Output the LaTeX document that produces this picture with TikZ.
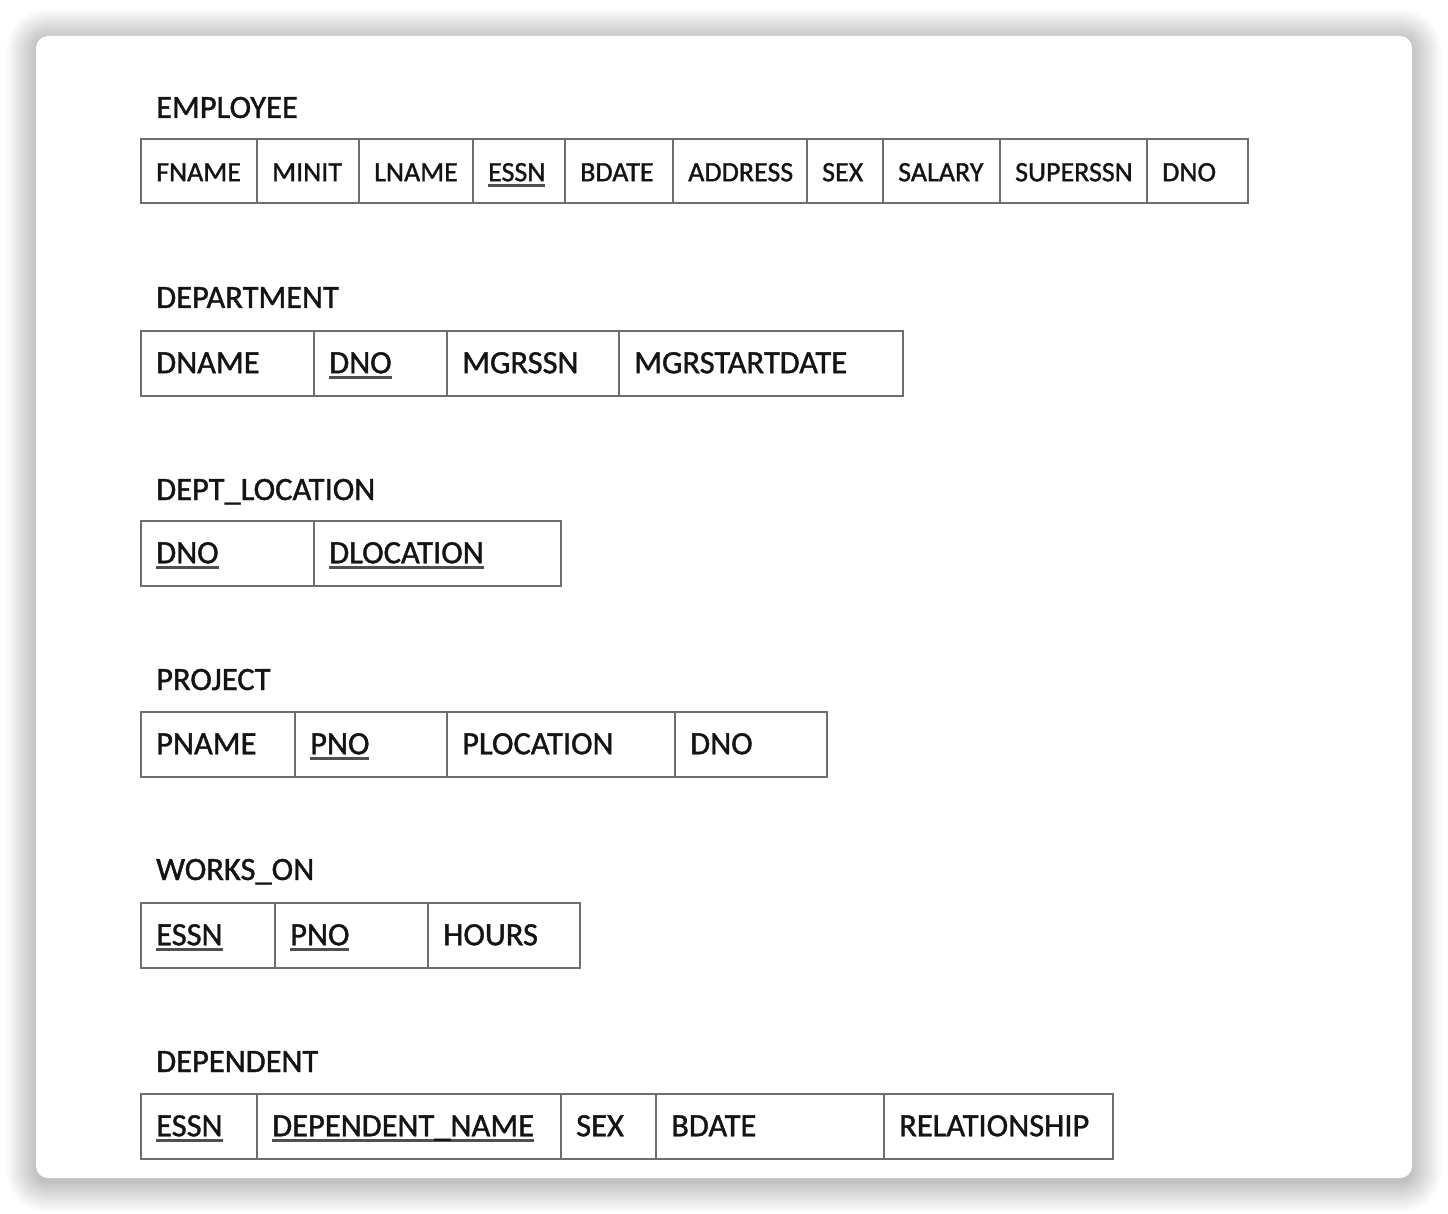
\documentclass[tikz,border=0pt]{standalone}
\usepackage{fontspec}
\setmainfont{Carlito}[FakeBold=1.2]
\definecolor{bordergray}{HTML}{6E6E6E}
\definecolor{ulgray}{HTML}{505050}
\definecolor{txt}{HTML}{141414}
\newcommand\pk[1]{\sbox0{#1}\rlap{\color{ulgray}\rule[-5.5pt]{\wd0}{2.5pt}}\usebox0}
\tikzset{
  cell/.style={draw=bordergray, line width=2pt, anchor=north west, outer sep=0pt,
    inner sep=0pt, minimum height=64.5pt},
  celltext/.style={anchor=base west, inner sep=0pt, text=txt,
    font=\fontsize{32.5pt}{38pt}\selectfont},
  smalltext/.style={font=\fontsize{28pt}{34pt}\selectfont},
  title/.style={anchor=base west, inner sep=0pt, text=txt,
    font=\fontsize{32.5pt}{38pt}\selectfont},
}
\newcommand\mkcell[6][]{%
  \pgfmathsetmacro\cw{#4-#3}%
  \node[cell, minimum width=\cw pt] (#2) at (#3,#5) {};
  \node[celltext,#1] (#2t) at ([xshift=15pt,yshift=-10pt]#2.west) {#6};
}
\begin{document}
\begin{tikzpicture}[x=1pt,y=-1pt]
\useasboundingbox (0,0) rectangle (1448,1214);
\fill[white] (0,0) rectangle (1448,1214);
\foreach \i in {1,...,30}{
  \pgfmathsetmacro\rr{12+\i}
  \fill[black, opacity=0.006, rounded corners=\rr pt] (36-\i, 39-\i) rectangle (1412+\i, 1182+\i);
}
\fill[white, rounded corners=12pt] (36,36) rectangle (1412,1178);

% EMPLOYEE
\node[title] (lemp) at (156,118) {EMPLOYEE};
\mkcell[smalltext]{e1}{141}{257}{139}{FNAME}
\mkcell[smalltext]{e2}{257}{359}{139}{MINIT}
\mkcell[smalltext]{e3}{359}{473}{139}{LNAME}
\mkcell[smalltext]{e4}{473}{565}{139}{\pk{ESSN}}
\mkcell[smalltext]{e5}{565}{673}{139}{BDATE}
\mkcell[smalltext]{e6}{673}{807}{139}{ADDRESS}
\mkcell[smalltext]{e7}{807}{883}{139}{SEX}
\mkcell[smalltext]{e8}{883}{1000}{139}{SALARY}
\mkcell[smalltext]{e9}{1000}{1147}{139}{SUPERSSN}
\mkcell[smalltext]{e10}{1147}{1248}{139}{DNO}

% DEPARTMENT
\node[title] (ldep) at (156,308) {DEPARTMENT};
\mkcell{d1}{141}{314}{331}{DNAME}
\mkcell{d2}{314}{447}{331}{\pk{DNO}}
\mkcell{d3}{447}{619}{331}{MGRSSN}
\mkcell{d4}{619}{903}{331}{MGRSTARTDATE}

% DEPT_LOCATION
\node[title] (lloc) at (156,500) {DEPT\_LOCATION};
\mkcell{l1}{141}{314}{521}{\pk{DNO}}
\mkcell{l2}{314}{561}{521}{\pk{DLOCATION}}

% PROJECT
\node[title] (lproj) at (156,690) {PROJECT};
\mkcell{p1}{141}{295}{712}{PNAME}
\mkcell{p2}{295}{447}{712}{\pk{PNO}}
\mkcell{p3}{447}{675}{712}{PLOCATION}
\mkcell{p4}{675}{827}{712}{DNO}

% WORKS_ON
\node[title] (lwo) at (156,880) {WORKS\_ON};
\mkcell{w1}{141}{275}{903}{\pk{ESSN}}
\mkcell{w2}{275}{428}{903}{\pk{PNO}}
\mkcell{w3}{428}{580}{903}{HOURS}

% DEPENDENT
\node[title] (ldpd) at (156,1072) {DEPENDENT};
\mkcell{n1}{141}{257}{1094}{\pk{ESSN}}
\mkcell{n2}{257}{561}{1094}{\pk{DEPENDENT\_NAME}}
\mkcell{n3}{561}{656}{1094}{SEX}
\mkcell{n4}{656}{884}{1094}{BDATE}
\mkcell{n5}{884}{1113}{1094}{RELATIONSHIP}
\end{tikzpicture}
\end{document}
